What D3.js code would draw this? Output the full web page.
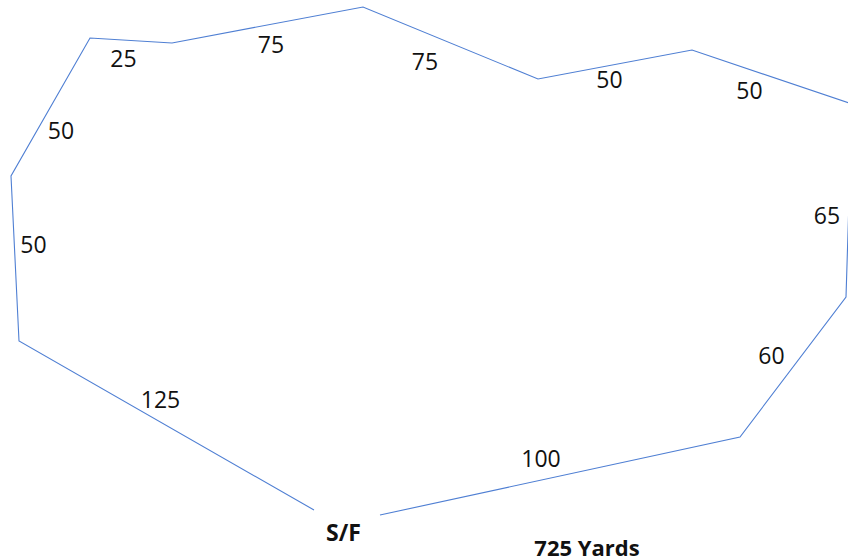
<!DOCTYPE html>
<html>
<head>
<meta charset="utf-8">
<script src="https://cdn.jsdelivr.net/npm/d3@7"></script>
<style>
  html, body { margin: 0; padding: 0; background: #fff; }
  svg { display: block; overflow: hidden; }
</style>
</head>
<body>
<div id="chart"></div>
<script>
// course corners, in map units, going round from the start line
var cornerX = [314, 19, 11, 90, 172, 363, 538, 692, 852, 846, 740, 380];
var cornerY = [510, 341, 176, 38, 43, 7, 79, 50, 104, 297, 437, 515];
// yards for each leg between consecutive corners
var legYards = [125, 50, 50, 25, 75, 75, 50, 50, 65, 60, 100];
var startLabel = "S/F";
var unitLabel = "Yards";

// label nudges from each leg's midpoint (px)
var labelDx = [-6, 18.5, 10.5, -7.5, 3.5, -25.5, -5.5, -22.5, -22, -21.5, -19];
var labelDy = [-25.5, -13.5, 24, 18, 19.5, 19, 15.5, 13.5, 15, -11, -17.5];

var width = 848, height = 560;
var font = "'Open Sans', 'Noto Sans', sans-serif";

var svg = d3.select("#chart").append("svg")
    .attr("width", width)
    .attr("height", height);

var x = d3.scaleLinear().domain([0, 848]).range([0, width]);
var y = d3.scaleLinear().domain([0, 560]).range([0, height]);

var legs = legYards.map(function(d, i) {
  return {
    yards: d,
    x1: cornerX[i], y1: cornerY[i],
    x2: cornerX[i + 1], y2: cornerY[i + 1],
    dx: labelDx[i], dy: labelDy[i]
  };
});

var line = d3.line()
    .x(function(d) { return x(d[0]); })
    .y(function(d) { return y(d[1]); });

svg.append("path")
    .datum(d3.zip(cornerX, cornerY))
    .attr("d", line)
    .attr("fill", "none")
    .attr("stroke", "#4f7fd3")
    .attr("stroke-width", 1.1)
    .attr("stroke-linejoin", "miter");

svg.selectAll("text.leg")
    .data(legs)
  .enter().append("text")
    .attr("class", "leg")
    .attr("x", function(d) { return x((d.x1 + d.x2) / 2) + d.dx; })
    .attr("y", function(d) { return y((d.y1 + d.y2) / 2) + d.dy; })
    .attr("dy", "0.36em")
    .attr("text-anchor", "middle")
    .attr("font-family", font)
    .attr("font-size", 23)
    .attr("fill", "#111")
    .text(function(d) { return d.yards; });

// start / finish sits in the gap between the first and last corner
svg.append("text")
    .attr("x", x((cornerX[0] + cornerX[cornerX.length - 1]) / 2) - 3.5)
    .attr("y", y(cornerY[0]) + 23)
    .attr("dy", "0.36em")
    .attr("text-anchor", "middle")
    .attr("font-family", font)
    .attr("font-weight", "bold")
    .attr("font-size", 23)
    .attr("fill", "#111")
    .text(startLabel);

svg.append("text")
    .attr("x", 587)
    .attr("y", 556)
    .attr("text-anchor", "middle")
    .attr("font-family", font)
    .attr("font-weight", "bold")
    .attr("font-size", 22)
    .attr("fill", "#111")
    .text(d3.sum(legYards) + " " + unitLabel);
</script>
</body>
</html>
